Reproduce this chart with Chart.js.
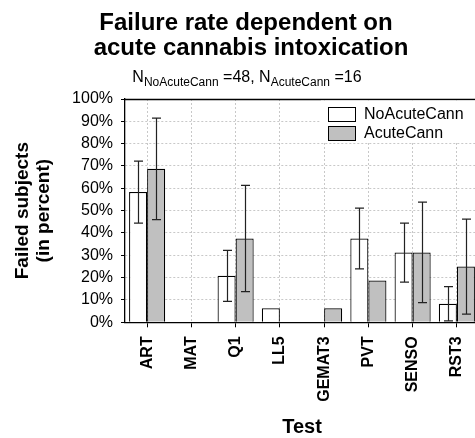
<!DOCTYPE html>
<html>
<head>
<meta charset="utf-8">
<script src="https://cdn.jsdelivr.net/npm/chart.js@4/dist/chart.umd.min.js"></script>
<style>
  html, body { margin: 0; padding: 0; background: #fff; overflow: hidden; }
  #wrap { width: 490px; height: 438px; position: relative; }
</style>
</head>
<body>
<div id="wrap"><canvas id="c"></canvas></div>
<script>
const categories = ['ART', 'MAT', 'Q1', 'LL5', 'GEMAT3', 'PVT', 'SENSO', 'RST3'];
const seriesNames = ['NoAcuteCann', 'AcuteCann'];
const noAcuteCann = [58.3, 0, 20.8, 6.25, 0, 37.5, 31.25, 8.3];
const acuteCann = [68.75, 0, 37.5, 0, 6.25, 18.75, 31.25, 25];
const noAcuteLow = [44.4, null, 9.4, null, null, 23.9, 18.0, 0.6];
const noAcuteHigh = [72.2, null, 32.2, null, null, 51.1, 44.4, 16.0];
const acuteLow = [46.0, null, 13.7, null, null, null, 8.8, 3.7];
const acuteHigh = [91.4, null, 61.3, null, null, null, 53.8, 46.2];
const yTicks = [0, 10, 20, 30, 40, 50, 60, 70, 80, 90, 100];
const titleLines = ['Failure rate dependent on', 'acute cannabis intoxication'];
const subtitleParts = [
  {t: 'N', sub: false}, {t: 'NoAcuteCann', sub: true}, {t: ' =48, ', sub: false},
  {t: 'N', sub: false}, {t: 'AcuteCann', sub: true}, {t: ' =16', sub: false}
];

const FONT = 'Arial, "Liberation Sans", sans-serif';

const titlePlugin = {
  id: 'titles',
  afterDraw(chart) {
    const ctx = chart.ctx;
    ctx.save();
    ctx.fillStyle = '#000';
    ctx.textAlign = 'center';
    ctx.textBaseline = 'alphabetic';
    ctx.font = 'bold 24px ' + FONT;
    ctx.fillText(titleLines[0], 246, 29.5);
    ctx.fillText(titleLines[1], 251, 54.5);
    // subtitle with subscripts
    const mainFont = '16px ' + FONT, subFont = '12px ' + FONT;
    let total = 0;
    subtitleParts.forEach(p => { ctx.font = p.sub ? subFont : mainFont; total += ctx.measureText(p.t).width; });
    let x = 247 - total / 2;
    ctx.textAlign = 'left';
    subtitleParts.forEach(p => {
      ctx.font = p.sub ? subFont : mainFont;
      ctx.fillText(p.t, x, p.sub ? 86 : 81.7);
      x += ctx.measureText(p.t).width;
    });
    ctx.restore();
  }
};

const framePlugin = {
  id: 'frame',
  beforeDatasetsDraw(chart) {
    const {ctx, chartArea} = chart;
    ctx.save();
    // top frame line
    ctx.strokeStyle = '#000';
    ctx.lineWidth = 1.3;
    ctx.beginPath();
    ctx.moveTo(chartArea.left, chartArea.top + 0.5);
    ctx.lineTo(chartArea.right, chartArea.top + 0.5);
    ctx.stroke();
    // legend
    const lx = 321, ly = chartArea.top + 1.5;
    ctx.fillStyle = '#fff';
    ctx.fillRect(lx, ly, chartArea.right - lx, 142 - ly);
    const rows = [107.5, 126.5];
    chart.data.datasets.forEach((ds, i) => {
      ctx.fillStyle = ds.backgroundColor;
      ctx.fillRect(328.5, rows[i], 27, 14);
      ctx.strokeStyle = '#000';
      ctx.lineWidth = 1;
      ctx.strokeRect(328.5, rows[i], 27, 14);
      ctx.fillStyle = '#000';
      ctx.font = '16px ' + FONT;
      ctx.textAlign = 'left';
      ctx.textBaseline = 'middle';
      ctx.fillText(ds.label, 364, rows[i] + 7.5);
    });
    ctx.restore();
  }
};

const errorBarPlugin = {
  id: 'errorBars',
  afterDatasetsDraw(chart) {
    const {ctx} = chart;
    const yScale = chart.scales.y;
    const sets = [[0, noAcuteLow, noAcuteHigh], [1, acuteLow, acuteHigh]];
    ctx.save();
    ctx.strokeStyle = '#222';
    ctx.lineWidth = 1.2;
    sets.forEach(([di, lo, hi]) => {
      const meta = chart.getDatasetMeta(di);
      meta.data.forEach((bar, i) => {
        if (lo[i] == null || hi[i] == null) return;
        const x = Math.round(bar.x) + 0.5;
        const y1 = yScale.getPixelForValue(lo[i]);
        const y2 = yScale.getPixelForValue(hi[i]);
        ctx.beginPath();
        ctx.moveTo(x, y1); ctx.lineTo(x, y2);
        ctx.moveTo(x - 4.5, y1); ctx.lineTo(x + 4.5, y1);
        ctx.moveTo(x - 4.5, y2); ctx.lineTo(x + 4.5, y2);
        ctx.stroke();
      });
    });
    ctx.restore();
  }
};

new Chart(document.getElementById('c'), {
  type: 'bar',
  data: {
    labels: categories,
    datasets: [
      {label: seriesNames[0], data: noAcuteCann, backgroundColor: '#ffffff', borderColor: '#000', borderWidth: 1.2},
      {label: seriesNames[1], data: acuteCann, backgroundColor: '#c0c0c0', borderColor: '#000', borderWidth: 1.2}
    ]
  },
  options: {
    responsive: true,
    maintainAspectRatio: false,
    animation: false,
    categoryPercentage: 0.816,
    barPercentage: 1.0,
    layout: {padding: {top: 99, left: 0, right: 11, bottom: 0}},
    plugins: {
      legend: {display: false},
      title: {display: false},
      tooltip: {enabled: false}
    },
    scales: {
      x: {
        offset: true,
        grid: {offset: false, color: '#c8c8c8', lineWidth: 1, tickLength: 5, tickColor: '#000', drawTicks: true},
        border: {display: true, color: '#000', width: 1.3, dash: [2, 2]},
        ticks: {
          autoSkip: false, minRotation: 90, maxRotation: 90, padding: 9,
          color: '#000', font: {family: FONT, size: 16, weight: 'bold'}
        },
        title: {display: true, text: 'Test', color: '#000', padding: {top: 0, bottom: 0},
                font: {family: FONT, size: 20, weight: 'bold', lineHeight: 1.1}},
        afterFit(scale) { scale.height = 115.7; }
      },
      y: {
        min: 0, max: 100,
        afterBuildTicks(scale) { scale.ticks = yTicks.map(v => ({value: v})); },
        grid: {color: '#c8c8c8', lineWidth: 1, tickLength: 4, tickColor: '#000'},
        border: {display: true, color: '#000', width: 1.3, dash: [2, 2]},
        ticks: {
          padding: 8, color: '#000', font: {family: FONT, size: 16},
          callback: v => v + '%'
        },
        title: {display: true, text: ['Failed subjects', '(in percent)'], color: '#000',
                padding: {top: 12, bottom: 0},
                font: {family: FONT, size: 19, weight: 'bold', lineHeight: 1.1}},
        afterFit(scale) { scale.width = 125; }
      }
    }
  },
  plugins: [titlePlugin, framePlugin, errorBarPlugin]
});
</script>
</body>
</html>
